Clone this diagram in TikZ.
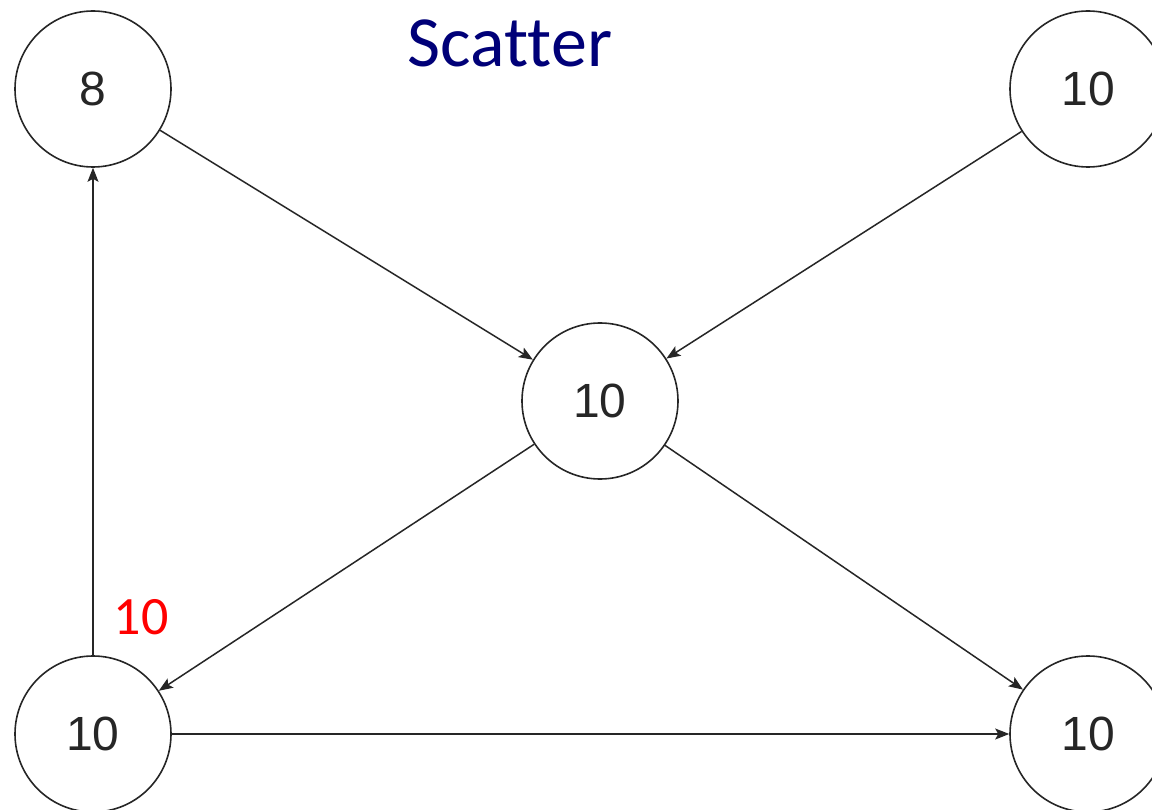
\documentclass[tikz,border=0pt]{standalone}
\usepackage{fontspec}
\setmainfont{Liberation Sans}
\newfontfamily\calib[Ligatures={NoCommon}]{Carlito}
\usetikzlibrary{arrows.meta}
\definecolor{titlenavy}{RGB}{0,0,120}
\tikzset{
  vert/.style={circle, draw=black!85, line width=1.6pt, minimum size=156pt, inner sep=0pt, font=\fontsize{48}{52}\selectfont, text=black!85},
  edge/.style={draw=black!85, line width=1.5pt, -{Stealth[length=14pt, width=11pt, inset=3pt]}}
}
\begin{document}
\begin{tikzpicture}[x=1pt, y=-1pt]
\useasboundingbox (0,0) rectangle (1152,810);
\clip (0,0) rectangle (1152,810);
\fill[white] (0,0) rectangle (1152,810);
\node[vert] (a) at (93,89) {8};
\node[vert] (b) at (1088,89) {10};
\node[vert] (c) at (600,401) {10};
\node[vert] (d) at (93,734) {10};
\node[vert] (e) at (1088,734) {10};
\node[font=\calib\fontsize{72}{76}\selectfont, text=titlenavy, inner sep=0pt] (title) at (510,43) {Scatter};
\node[font=\calib\fontsize{54}{58}\selectfont, text=red, inner sep=0pt] (lab) at (141,617) {10};
\draw[edge] (a) -- (c);
\draw[edge] (b) -- (c);
\draw[edge] (c) -- (d);
\draw[edge] (c) -- (e);
\draw[edge] (d) -- (a);
\draw[edge] (d) -- (e);
\end{tikzpicture}
\end{document}
